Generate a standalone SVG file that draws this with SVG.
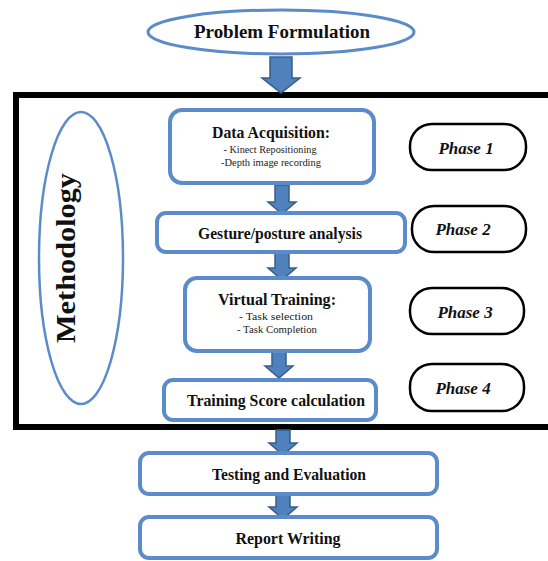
<svg xmlns="http://www.w3.org/2000/svg" width="548" height="561" viewBox="0 0 548 561">
<defs>
<style>
.box{fill:#fff;stroke:#5b8bc8;stroke-width:4}
.phase{fill:#fff;stroke:#000;stroke-width:2.5}
.arr{fill:#4f81bd;stroke:#385d8a;stroke-width:1.5}
.t{font-family:"Liberation Serif",serif;font-weight:bold;fill:#111;text-anchor:middle}
.s{font-family:"Liberation Serif",serif;fill:#222;text-anchor:middle;font-size:11px}
.p{font-family:"Liberation Serif",serif;font-weight:bold;font-style:italic;fill:#111;text-anchor:middle;font-size:17px}
</style>
</defs>
<rect width="548" height="561" fill="#fff"/>
<g id="frame">
<rect x="16" y="95" width="560" height="332" fill="none" stroke="#000" stroke-width="6"/>
</g>
<g id="connectors">
<path class="arr" d="M270,57 H292 V78 H300 L281,93 L262,78 H270 Z"/>
<path class="arr" d="M275,185 H289 V202 H296 L282,214 L268,202 H275 Z"/>
<path class="arr" d="M275,253 H289 V268 H296 L282,280 L268,268 H275 Z"/>
<path class="arr" d="M272,352 H286 V366 H293 L279,378 L265,366 H272 Z"/>
<path class="arr" d="M276,430 H290 V443 H297 L283,455 L269,443 H276 Z"/>
<path class="arr" d="M276,494 H290 V507 H297 L283,519 L269,507 H276 Z"/>
</g>
<g id="problem">
<ellipse cx="281" cy="32" rx="133" ry="22" fill="#fff" stroke="#5b8bc8" stroke-width="3"/>
<text class="t" x="282" y="38" font-size="18" textLength="176" lengthAdjust="spacingAndGlyphs">Problem Formulation</text>
</g>
<g id="methodology">
<ellipse cx="81" cy="258" rx="42" ry="146" fill="#fff" stroke="#5b8bc8" stroke-width="2.5"/>
<text class="t" transform="translate(75,258) rotate(-90)" x="0" y="0" font-size="28" textLength="170" lengthAdjust="spacingAndGlyphs">Methodology</text>
</g>
<g id="data">
<rect class="box" x="170" y="110" width="204" height="73" rx="12"/>
<text class="t" x="271" y="138" font-size="17" textLength="118" lengthAdjust="spacingAndGlyphs">Data Acquisition:</text>
<text class="s" x="270" y="153" textLength="93" lengthAdjust="spacingAndGlyphs">- Kinect Repositioning</text>
<text class="s" x="271" y="166" textLength="100" lengthAdjust="spacingAndGlyphs">-Depth image recording</text>
</g>
<g id="gesture">
<rect class="box" x="157" y="213" width="248" height="39" rx="9"/>
<text class="t" x="280" y="239" font-size="16" textLength="164" lengthAdjust="spacingAndGlyphs">Gesture/posture analysis</text>
</g>
<g id="virtual">
<rect class="box" x="185" y="278" width="185" height="73" rx="12"/>
<text class="t" x="277" y="305" font-size="17" textLength="118" lengthAdjust="spacingAndGlyphs">Virtual Training:</text>
<text class="s" x="276" y="320" textLength="74" lengthAdjust="spacingAndGlyphs">- Task selection</text>
<text class="s" x="277" y="333" textLength="80" lengthAdjust="spacingAndGlyphs">- Task Completion</text>
</g>
<g id="score">
<rect class="box" x="164" y="380" width="212" height="40" rx="9"/>
<text class="t" x="276" y="406" font-size="16" textLength="178" lengthAdjust="spacingAndGlyphs">Training Score calculation</text>
</g>
<g id="testing">
<rect class="box" x="140" y="453" width="297" height="41" rx="9"/>
<text class="t" x="289" y="480" font-size="16" textLength="154" lengthAdjust="spacingAndGlyphs">Testing and Evaluation</text>
</g>
<g id="report">
<rect class="box" x="140" y="517" width="297" height="41" rx="9"/>
<text class="t" x="288" y="544" font-size="16" textLength="105" lengthAdjust="spacingAndGlyphs">Report Writing</text>
</g>
<g id="phase1">
<rect class="phase" x="410" y="124" width="116" height="46" rx="22"/>
<text class="p" x="466" y="154">Phase 1</text>
</g>
<g id="phase2">
<rect class="phase" x="412" y="206" width="114" height="46" rx="22"/>
<text class="p" x="463" y="235">Phase 2</text>
</g>
<g id="phase3">
<rect class="phase" x="410" y="288" width="114" height="46" rx="22"/>
<text class="p" x="465" y="318">Phase 3</text>
</g>
<g id="phase4">
<rect class="phase" x="410" y="364" width="114" height="47" rx="22"/>
<text class="p" x="463" y="394">Phase 4</text>
</g>
</svg>
